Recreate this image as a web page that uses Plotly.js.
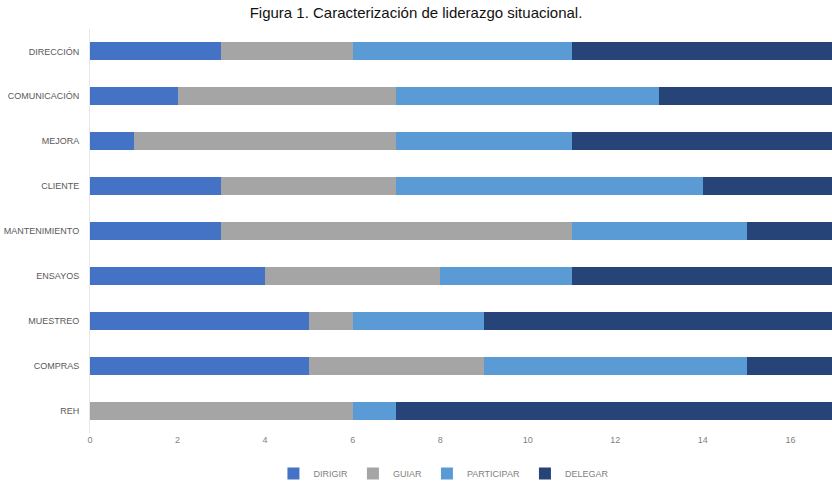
<!DOCTYPE html>
<html>
<head>
<meta charset="utf-8">
<script src="https://cdn.plot.ly/plotly-3.0.1.min.js"></script>
<style>html,body{margin:0;padding:0;background:#fff;}#chart{width:832px;height:488px;}</style>
</head>
<body>
<div id="chart"></div>
<script>
const categories = ["DIRECCIÓN","COMUNICACIÓN","MEJORA","CLIENTE","MANTENIMIENTO","ENSAYOS","MUESTREO","COMPRAS","REH"];
const dirigir    = [3, 2, 1, 3, 3, 4, 5, 5, 0];
const guiar      = [3, 5, 6, 4, 8, 4, 1, 4, 6];
const participar = [5, 6, 4, 7, 4, 3, 3, 6, 1];
const delegar    = [6, 4, 6, 3, 2, 6, 8, 2, 10];
const seriesNames = ["DIRIGIR","GUIAR","PARTICIPAR","DELEGAR"];
const xTicks = [0, 2, 4, 6, 8, 10, 12, 14, 16];

const colors = ["#4472C4", "#A5A5A5", "#5B9BD5", "#264478"];
const values = [dirigir, guiar, participar, delegar];

const traces = values.map((v, i) => ({
  type: "bar",
  orientation: "h",
  name: seriesNames[i],
  x: v,
  y: categories,
  marker: { color: colors[i], line: { width: 0 } },
  hoverinfo: "x+y+name"
}));

const layout = {
  width: 832,
  height: 488,
  margin: { l: 90, r: 0, t: 29, b: 48 },
  paper_bgcolor: "#ffffff",
  plot_bgcolor: "#ffffff",
  barmode: "stack",
  bargap: 0.6,
  title: {
    text: "Figura 1. Caracterización de liderazgo situacional.",
    font: { family: "Liberation Sans, Arial, sans-serif", size: 15, color: "#111111" },
    x: 0.5, xanchor: "center", xref: "container", y: 0.985, yanchor: "top"
  },
  xaxis: {
    range: [0, 16.95],
    tickvals: xTicks,
    ticktext: xTicks.map(String),
    showgrid: false,
    zeroline: false,
    showline: false,
    ticks: "",
    tickfont: { family: "Liberation Sans Narrow, Liberation Sans, sans-serif", size: 9, color: "#7f7f7f" },
    fixedrange: true
  },
  yaxis: {
    type: "category",
    autorange: "reversed",
    showgrid: false,
    zeroline: false,
    showline: true,
    linecolor: "#e6e6e6",
    linewidth: 1,
    ticks: "",
    ticklabelstandoff: 8,
    tickfont: { family: "Liberation Sans Narrow, Liberation Sans, sans-serif", size: 9, color: "#595959" },
    fixedrange: true
  },
  legend: {
    orientation: "h",
    x: 0.477, xanchor: "center",
    y: -0.065, yanchor: "top",
    font: { family: "Liberation Sans Narrow, Liberation Sans, sans-serif", size: 9, color: "#7f7f7f" },
    itemwidth: 30,
    traceorder: "normal"
  },
  showlegend: true
};

Plotly.newPlot("chart", traces, layout, { displayModeBar: false, staticPlot: true });
</script>
</body>
</html>
